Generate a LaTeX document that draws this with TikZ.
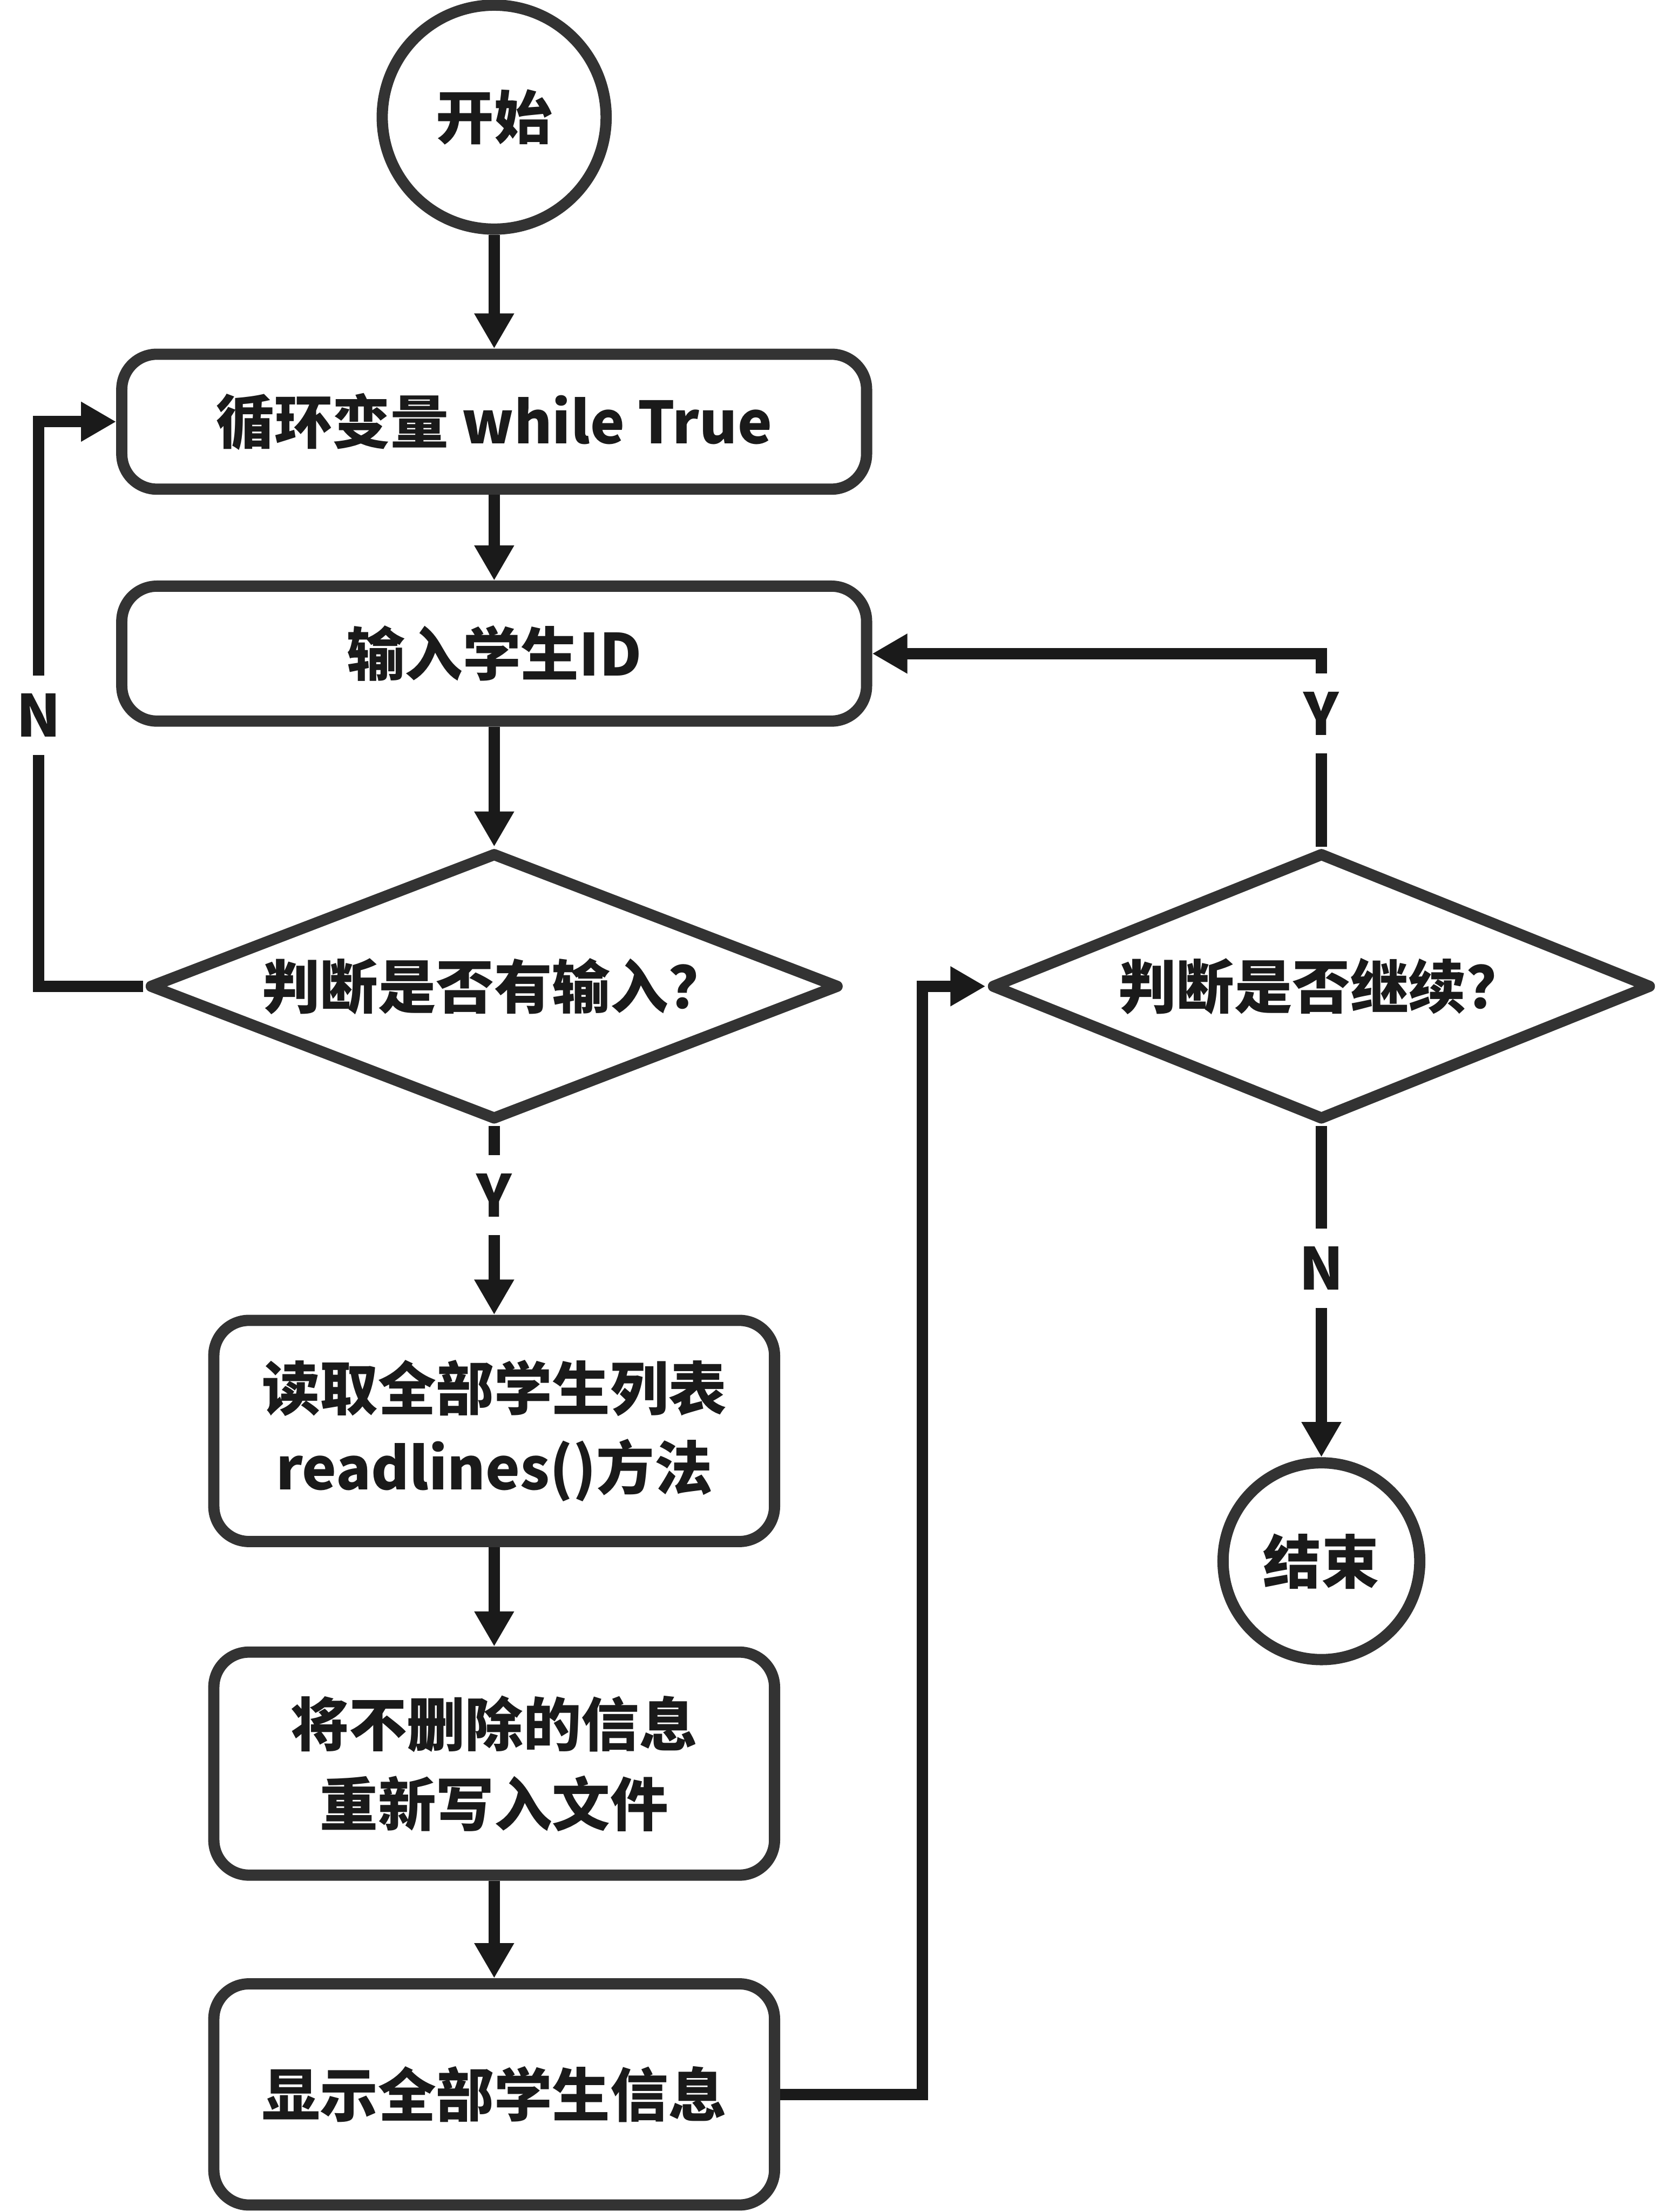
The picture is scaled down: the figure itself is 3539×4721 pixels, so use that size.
\documentclass[tikz,border=0pt]{standalone}
\usepackage{fontspec}
\setmainfont{Noto Sans CJK SC}
\usetikzlibrary{shapes.geometric,arrows.meta}
\definecolor{ink}{HTML}{1A1A1A}
\definecolor{edge}{HTML}{333333}
\begin{document}
\begin{tikzpicture}[x=1pt,y=-1pt,
  every node/.style={font=\fontsize{124}{170}\selectfont\bfseries, text=ink},
  shapebox/.style={draw=edge, line width=24pt, fill=white, inner sep=0pt},
  procbox/.style={shapebox, rectangle, rounded corners=75pt, align=center},
  termcirc/.style={shapebox, circle},
  decision/.style={shapebox, diamond, aspect=2.5, line join=round},
  arr/.style={draw=ink, line width=24pt, -{Triangle[length=75pt,width=80pt]}},
  lbl/.style={fill=white, inner sep=0pt, minimum height=170pt, minimum width=100pt}
]
\useasboundingbox (0,0) rectangle (3539,4721);
% shapes
\node[termcirc, minimum size=478pt] (start) at (1055,250) {开始};
\node[procbox, minimum width=1590pt, minimum height=288pt] (b1) at (1055,900) {循环变量 while True};
\node[procbox, minimum width=1590pt, minimum height=288pt] (b2) at (1055,1395) {输入学生ID};
\node[decision, minimum width=1474pt, minimum height=572pt] (d1) at (1055,2105) {判断是否有输入？};
\node[procbox, minimum width=1197pt, minimum height=472pt] (b3) at (1055,3054) {读取全部学生列表\\readlines()方法};
\node[procbox, minimum width=1197pt, minimum height=476pt] (b4) at (1055,3764) {将不删除的信息\\重新写入文件};
\node[procbox, minimum width=1197pt, minimum height=472pt] (b5) at (1055,4470) {显示全部学生信息};
\node[decision, minimum width=1410pt, minimum height=572pt] (d2) at (2821,2105) {判断是否继续？};
\node[termcirc, minimum size=420pt] (end) at (2821,3332) {结束};
% helper coordinates
\coordinate (r1) at (1969,4470);
\coordinate (r2) at (1969,2105);
\coordinate (y1) at (2821,1395);
\coordinate (n1) at (82,2105);
\coordinate (n2) at (82,900);
% connectors
\draw[arr] (start) -- (b1);
\draw[arr] (b1) -- (b2);
\draw[arr] (b2) -- (d1);
\draw[arr] (d1) -- node[lbl, pos=0.367]{Y} (b3);
\draw[arr] (b3) -- (b4);
\draw[arr] (b4) -- (b5);
\draw[arr] (b5) -- (r1) -- (r2) -- (d2);
\draw[arr] (d2) -- node[lbl, pos=0.69]{Y} (y1) -- (b2);
\draw[arr] (d2) -- node[lbl, pos=0.43]{N} (end);
\draw[arr] (d1) -- (n1) -- node[lbl, pos=0.48]{N} (n2) -- (b1);
\end{tikzpicture}
\end{document}
